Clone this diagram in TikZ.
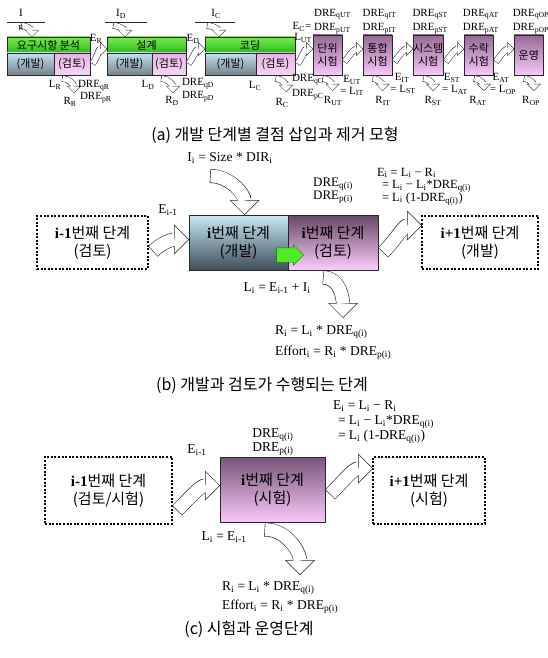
\documentclass[tikz,border=0pt]{standalone}
\usepackage{fontspec}
\setmainfont{Liberation Serif}
\newfontfamily\kr{Noto Sans CJK KR}
\usetikzlibrary{arrows.meta, positioning, shapes.arrows, calc}

\definecolor{bordc}{RGB}{40,40,40}
\definecolor{grntop}{RGB}{120,235,80}
\definecolor{grnbot}{RGB}{45,185,25}
\definecolor{devtop}{RGB}{195,225,240}
\definecolor{devbot}{RGB}{115,130,140}
\definecolor{revtop}{RGB}{228,180,228}
\definecolor{revbot}{RGB}{245,212,245}
\definecolor{tsttop}{RGB}{150,105,150}
\definecolor{tstbot}{RGB}{248,200,248}
\definecolor{dvtop}{RGB}{200,232,246}
\definecolor{dvbot}{RGB}{62,78,88}
\definecolor{rvtop}{RGB}{105,70,100}
\definecolor{rvbot}{RGB}{250,205,250}
\definecolor{ictop}{RGB}{120,85,120}
\definecolor{icbot}{RGB}{248,200,248}
\definecolor{grnfill}{RGB}{80,235,40}
\definecolor{grnedge}{RGB}{30,110,20}

\newcommand{\sub}[1]{\textsubscript{#1}}
\newcommand{\ib}[1]{{\rmfamily\bfseries #1}}
\newcommand{\bigarrow}[1]{\draw[bigouter] #1; \draw[biginner] #1;}
\newcommand{\smallarrow}[1]{\draw[smallouter] #1; \draw[smallinner] #1;}

\begin{document}
\begin{tikzpicture}[x=1pt, y=-1pt,
    every node/.style={inner sep=0pt, outer sep=0pt},
    header/.style={draw=bordc, top color=grntop, bottom color=grnbot, minimum height=16pt, font=\kr\fontsize{11}{13}\selectfont},
    devbox/.style={draw=bordc, top color=devtop, bottom color=devbot, minimum height=22pt, font=\kr\fontsize{11}{13}\selectfont},
    revbox/.style={draw=bordc, top color=revtop, bottom color=revbot, minimum height=22pt, font=\kr\fontsize{11}{13}\selectfont},
    testbox/.style={draw=bordc, top color=tsttop, bottom color=tstbot, minimum width=29pt, minimum height=40pt, align=center, font=\kr\fontsize{11}{13.5}\selectfont},
    stagebox/.style={draw=black, line width=2.2pt, dash pattern=on 2pt off 1.6pt, align=center, font=\kr\fontsize{15}{18}\selectfont},
    midbox/.style={draw=bordc, align=center, font=\kr\fontsize{15}{18}\selectfont},
    lab/.style={font=\fontsize{11}{11}\selectfont},
    formula/.style={font=\fontsize{13.5}{13}\selectfont},
    captxt/.style={font=\kr\fontsize{16}{16}\selectfont},
    bigouter/.style={bordc, line width=14pt, -{Triangle[length=15pt, width=30pt, line width=0pt]}},
    biginner/.style={white, line width=12.8pt, shorten <=0.6pt, shorten >=0.85pt, -{Triangle[length=13.55pt, width=27.1pt, line width=0pt]}},
    smallouter/.style={bordc, line width=6.5pt, -{Triangle[length=7pt, width=14pt, line width=0pt]}},
    smallinner/.style={white, line width=5.5pt, shorten <=0.5pt, shorten >=0.71pt, -{Triangle[length=5.79pt, width=11.58pt, line width=0pt]}}]

    \fill[white] (0,0) rectangle (547,658);
    \useasboundingbox (0,0) rectangle (547,658);

    % (a) 노드 정의
    \node[header, minimum width=83pt] (h1) at (48.5,45) {요구시항 분석};
    \node[devbox, minimum width=47pt, anchor=north west] (d1) at (h1.south west) {(개발)};
    \node[revbox, minimum width=36pt, right=0pt of d1] (r1) {(검토)};

    \node[header, minimum width=79pt] (h2) at (146.5,45) {설계};
    \node[devbox, minimum width=45pt, anchor=north west] (d2) at (h2.south west) {(개발)};
    \node[revbox, minimum width=34pt, right=0pt of d2] (r2) {(검토)};

    \node[header, minimum width=90pt] (h3) at (250,45) {코딩};
    \node[devbox, minimum width=51pt, anchor=north west] (d3) at (h3.south west) {(개발)};
    \node[revbox, minimum width=39pt, right=0pt of d3] (r3) {(검토)};

    \node[testbox] (t1) at (327.5,55) {단위\\시험};
    \node[testbox, right=21pt of t1] (t2) {통합\\시험};
    \node[testbox, right=21pt of t2] (t3) {시스템\\시험};
    \node[testbox, right=21pt of t3] (t4) {수락\\시험};
    \node[testbox, right=21pt of t4] (t5) {운영};

    % (a) 연결선
    \draw[bordc] (7,22) -- (45,22);
    \draw[bordc] (105,22) -- (147,22);
    \draw[bordc] (195,22) -- (235,22);
    \smallarrow{(21,25.5) to[out=0,in=90] ($(h1.north west)+(25,0)$)}
    \smallarrow{(113,25.5) to[out=0,in=90] ($(h2.north west)+(18,0)$)}
    \smallarrow{(207,25.5) to[out=0,in=90] ($(h3.north west)+(14,0)$)}

    \smallarrow{([xshift=2.5pt]r1.east) to[out=55,in=180] ([yshift=-4pt]h2.west)}
    \smallarrow{([xshift=2.5pt]r2.east) to[out=55,in=180] ([yshift=-4pt]h3.west)}
    \smallarrow{([xshift=2.5pt]r3.east) to[out=55,in=180] ([yshift=6pt]t1.west)}
    \smallarrow{([xshift=2.5pt,yshift=-7pt]t1.east) to[out=55,in=180] ([yshift=6pt]t2.west)}
    \smallarrow{([xshift=2.5pt,yshift=-7pt]t2.east) to[out=55,in=180] ([yshift=6pt]t3.west)}
    \smallarrow{([xshift=2.5pt,yshift=-7pt]t3.east) to[out=55,in=180] ([yshift=6pt]t4.west)}
    \smallarrow{([xshift=2.5pt,yshift=-7pt]t4.east) to[out=55,in=180] ([yshift=6pt]t5.west)}

    \smallarrow{($(r1.south)+(-10,3.5)$) to[out=0,in=90] ($(r1.south)+(2,18)$)}
    \smallarrow{($(r2.south)+(-8,3.5)$) to[out=0,in=90] ($(r2.south)+(4,18)$)}
    \smallarrow{($(r3.south)+(0,3.5)$) to[out=0,in=90] ($(r3.south)+(10.5,17)$)}
    \smallarrow{($(t1.south)+(-5,3.5)$) to[out=0,in=90] ($(t1.south)+(5,16)$)}
    \smallarrow{($(t2.south)+(-5,3.5)$) to[out=0,in=90] ($(t2.south)+(5,16)$)}
    \smallarrow{($(t3.south)+(-5,3.5)$) to[out=0,in=90] ($(t3.south)+(5,16)$)}
    \smallarrow{($(t4.south)+(-5,3.5)$) to[out=0,in=90] ($(t4.south)+(5,16)$)}
    \smallarrow{($(t5.south)+(-5,3.5)$) to[out=0,in=90] ($(t5.south)+(5,16)$)}

    % (a) 라벨
    \node[lab, align=center, anchor=north] (iR) at (21,9.5) {I\\[3pt]{\fontsize{7.5}{8}\selectfont R}};
    \node[lab] (iD) at (121,14) {I\sub{D}};
    \node[lab] (iC) at (216,14) {I\sub{C}};
    \node[lab] (eR) at (96,39) {E\sub{R}};
    \node[lab] (eD) at (193,39) {E\sub{D}};
    \node[lab] (eC) at (302,27) {E\sub{C}=};
    \node[lab] (lUT) at (303,38) {L\sub{UT}};

    \node[lab] (lR) at (55,85) {L\sub{R}};
    \node[lab, anchor=west] (qR) at (78,86) {DRE\sub{qR}};
    \node[lab, anchor=west] (pR) at (80,97.5) {DRE\sub{pR}};
    \node[lab] (rR) at (70,102) {R\sub{R}};
    \node[lab] (lD) at (148,85) {L\sub{D}};
    \node[lab, anchor=west] (qD) at (182,84) {DRE\sub{qD}};
    \node[lab, anchor=west] (pD) at (182,97) {DRE\sub{pD}};
    \node[lab] (rD) at (172,101) {R\sub{D}};
    \node[lab] (lC) at (255,86) {L\sub{C}};
    \node[lab, anchor=west] (qC) at (292,80) {DRE\sub{qC}};
    \node[lab, anchor=west] (pC) at (292,95) {DRE\sub{pC}};
    \node[lab] (rC) at (282,103) {R\sub{C}};

    \node[lab, above=1pt of t1, xshift=5pt] (pUT) {DRE\sub{pUT}};
    \node[lab, above=4pt of pUT] (qUT) {DRE\sub{qUT}};
    \node[lab, above=1pt of t2, xshift=2pt] (pIT) {DRE\sub{pIT}};
    \node[lab, above=4pt of pIT] (qIT) {DRE\sub{qIT}};
    \node[lab, above=1pt of t3, xshift=2pt] (pST) {DRE\sub{pST}};
    \node[lab, above=4pt of pST] (qST) {DRE\sub{qST}};
    \node[lab, above=1pt of t4, xshift=2pt] (pAT) {DRE\sub{pAT}};
    \node[lab, above=4pt of pAT] (qAT) {DRE\sub{qAT}};
    \node[lab, above=1pt of t5, xshift=2pt] (pOP) {DRE\sub{pOP}};
    \node[lab, above=4pt of pOP] (qOP) {DRE\sub{qOP}};

    \node[lab] (eUT) at (352,80) {E\sub{UT}};
    \node[lab] (lIT) at (352,91.5) {= L\sub{IT}};
    \node[lab] (eIT) at (402,78) {E\sub{IT}};
    \node[lab] (lST) at (403,89.5) {= L\sub{ST}};
    \node[lab] (eST) at (452,78) {E\sub{ST}};
    \node[lab] (lAT) at (455,90) {= L\sub{AT}};
    \node[lab] (eAT) at (501,78) {E\sub{AT}};
    \node[lab] (lOP) at (503,90) {= L\sub{OP}};
    \node[lab] (rUT) at (333,101) {R\sub{UT}};
    \node[lab] (rIT) at (383,101) {R\sub{IT}};
    \node[lab] (rST) at (433,101) {R\sub{ST}};
    \node[lab] (rAT) at (478,101) {R\sub{AT}};
    \node[lab] (rOP) at (531,101) {R\sub{OP}};

    \node[captxt] (capA) at (275,135) {(a) 개발 단계별 결점 삽입과 제거 모형};

    % (b) 노드 정의
    \node[midbox, top color=dvtop, bottom color=dvbot, minimum width=99pt, minimum height=55pt] (dv) at (238.5,242.5) {\ib{i}번째 단계\\(개발)};
    \node[midbox, top color=rvtop, bottom color=rvbot, minimum width=90pt, minimum height=55pt, right=0pt of dv] (rv) {\ib{i}번째 단계\\(검토)};
    \node[stagebox, minimum width=111pt, minimum height=53pt] (pv) at (92.5,242.5) {\ib{i-1}번째 단계\\(검토)};
    \node[stagebox, minimum width=116pt, minimum height=53pt] (nx) at (480,242.5) {\ib{i+1}번째 단계\\(개발)};
    \node[single arrow, draw=grnedge, fill=grnfill, minimum height=27pt, inner xsep=0pt, inner ysep=7pt, single arrow head extend=3pt] (gr) at (286.5,255) {};

    % (b) 연결선
    \bigarrow{(210,176) to[out=0,in=90] ([xshift=6pt]dv.north)}
    \bigarrow{([xshift=5pt,yshift=-9pt]pv.east) to[out=45,in=180] ([yshift=3pt]dv.west)}
    \bigarrow{([xshift=5pt,yshift=-10pt]rv.east) to[out=45,in=180] ([yshift=17pt]nx.west)}
    \bigarrow{($(rv.south)+(-10,7.5)$) to[out=0,in=90] ($(rv.south)+(10,48)$)}

    % (b) 라벨
    \node[formula] (ii) at (230,158) {I\sub{i} = Size * DIR\sub{i}};
    \node[formula] (eb) at (168,210) {E\sub{i-1}};
    \node[formula, align=center, anchor=north, font=\fontsize{13}{13}\selectfont] (dqb) at (333,177.5) {DRE\sub{q(i)}\\DRE\sub{p(i)}};
    \node[formula, align=left, anchor=north west, font=\fontsize{12.5}{12.5}\selectfont] (eqb) at (377,168)
        {E\sub{i} = L\sub{i} − R\sub{i}\\\hspace*{5pt}= L\sub{i} − L\sub{i}*DRE\sub{q(i)}\\\hspace*{5pt}= L\sub{i} (1-DRE\sub{q(i)})};
    \node[formula] (lb) at (277,288) {L\sub{i} = E\sub{i-1} + I\sub{i}};
    \node[formula, anchor=west] (rb) at (275,332) {R\sub{i} = L\sub{i} * DRE\sub{q(i)}};
    \node[formula, anchor=west] (fb) at (275,353) {Effort\sub{i} = R\sub{i} * DRE\sub{p(i)}};
    \node[captxt] (capB) at (262,385) {(b) 개발과 검토가 수행되는 단계};

    % (c) 노드 정의
    \node[stagebox, minimum width=127pt, minimum height=67pt] (pc) at (108.5,490.5) {\ib{i-1}번째 단계\\(검토/시험)};
    \node[midbox, top color=ictop, bottom color=icbot, minimum width=105pt, minimum height=65pt] (ic) at (272.5,489.5) {\ib{i}번째 단계\\(시험)};
    \node[stagebox, minimum width=112pt, minimum height=67pt] (nc) at (429,490.5) {\ib{i+1}번째 단계\\(시험)};

    % (c) 연결선
    \bigarrow{([xshift=5pt,yshift=-20pt]pc.east) to[out=45,in=180] ([yshift=4pt]ic.west)}
    \bigarrow{([xshift=5pt,yshift=-5pt]ic.east) to[out=45,in=180] ([yshift=22pt]nc.west)}
    \bigarrow{($(ic.south)+(-8,7.5)$) to[out=0,in=90] ($(ic.south)+(27.5,53)$)}

    % (c) 라벨
    \node[formula] (ec) at (197,450) {E\sub{i-1}};
    \node[formula, align=center, anchor=north, font=\fontsize{13.5}{14}\selectfont] (dqc) at (273,428.5) {DRE\sub{q(i)}\\DRE\sub{p(i)}};
    \node[formula, align=left, anchor=north west, font=\fontsize{13.5}{15}\selectfont] (eqc) at (333,400.5)
        {E\sub{i} = L\sub{i} − R\sub{i}\\\hspace*{5pt}= L\sub{i} − L\sub{i}*DRE\sub{q(i)}\\\hspace*{5pt}= L\sub{i} (1-DRE\sub{q(i)})};
    \node[formula] (lc) at (224,537) {L\sub{i} = E\sub{i-1}};
    \node[formula, anchor=west] (rc) at (222,588) {R\sub{i} = L\sub{i} * DRE\sub{q(i)}};
    \node[formula, anchor=west] (fc) at (222,607) {Effort\sub{i} = R\sub{i} * DRE\sub{p(i)}};
    \node[captxt] (capC) at (249,629) {(c) 시험과 운영단계};
\end{tikzpicture}
\end{document}
